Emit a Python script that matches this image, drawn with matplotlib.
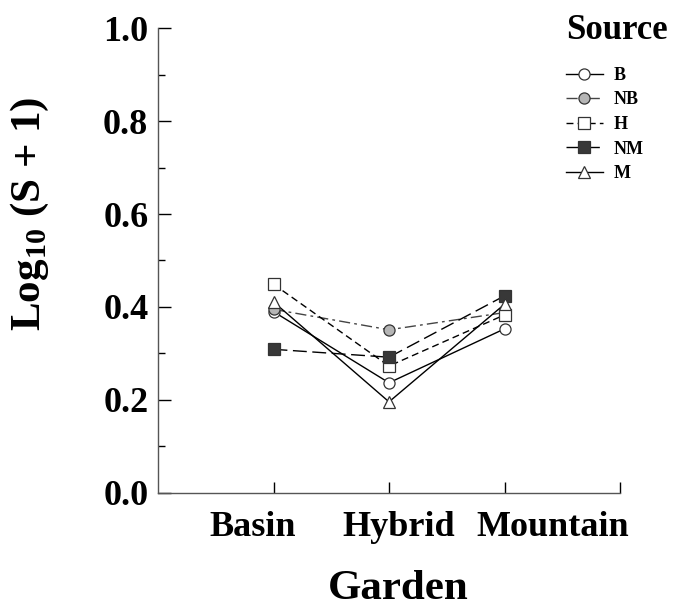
import numpy as np
import matplotlib.pyplot as plt
import matplotlib.transforms as mtransforms
from matplotlib.ticker import MultipleLocator, FormatStrFormatter

gardens = ["Basin", "Hybrid", "Mountain"]
sources = ["B", "NB", "H", "NM", "M"]

# log10(S+1) per source, in garden order
B = [0.390, 0.237, 0.353]
NB = [0.395, 0.351, 0.388]
H = [0.449, 0.273, 0.383]
NM = [0.309, 0.292, 0.424]
M = [0.411, 0.196, 0.406]

plt.rcParams['font.family'] = ['Liberation Serif', 'DejaVu Serif']
plt.rcParams['font.weight'] = 'bold'
plt.rcParams['mathtext.fontset'] = 'custom'
plt.rcParams['mathtext.bf'] = 'Liberation Serif:bold'

fig = plt.figure(figsize=(6.77, 6.09), dpi=100)
ax = fig.add_axes([0.2334, 0.1905, 0.6824, 0.7635])

x = np.arange(1, len(gardens) + 1)
styles = {
    "B": dict(ls='-', marker='o', mfc='white', color='black'),
    "NB": dict(ls=(0, (8, 3, 2, 3)), marker='o', mfc='#b5b5b5', color='#444444'),
    "H": dict(ls=(0, (5, 3)), marker='s', mfc='white', color='black'),
    "NM": dict(ls=(0, (10, 4)), marker='s', mfc='#383838', color='black'),
    "M": dict(ls='-', marker='^', mfc='white', color='black'),
}
data = {"B": B, "NB": NB, "H": H, "NM": NM, "M": M}
for s in sources:
    st = styles[s]
    ax.plot(x, data[s], linestyle=st['ls'], marker=st['marker'], color=st['color'],
            mfc=st['mfc'], mec='#333333', ms=8, lw=1.0, label=s, mew=0.9)

ax.set_xlim(0, 4)
ax.set_ylim(0, 1.0)
ax.set_xticks([1, 2, 3, 4])
ax.set_xticklabels(gardens + [""])
ax.yaxis.set_major_locator(MultipleLocator(0.2))
ax.yaxis.set_minor_locator(MultipleLocator(0.1))
ax.yaxis.set_major_formatter(FormatStrFormatter('%.1f'))
ax.tick_params(axis='y', which='major', direction='in', length=9, width=1, labelsize=26, pad=7)
ax.tick_params(axis='y', which='minor', direction='in', length=5, width=1)
ax.tick_params(axis='x', which='major', direction='in', length=8, width=1, labelsize=26, pad=13)
for lab in ax.get_xticklabels() + ax.get_yticklabels():
    lab.set_fontweight('bold')

# garden names sit as one spaced line, nudged off their ticks
shifts = [-15, 7, 35]
for lab, dx in zip(ax.get_xticklabels(), shifts):
    lab.set_transform(lab.get_transform() + mtransforms.ScaledTranslation(dx / 72, 0, fig.dpi_scale_trans))

for sp in ['top', 'right']:
    ax.spines[sp].set_visible(False)
for sp in ['left', 'bottom']:
    ax.spines[sp].set_color('#555555')
    ax.spines[sp].set_linewidth(1.0)

ax.set_xlabel("Garden", fontsize=31, fontweight='bold')
ax.xaxis.set_label_coords(0.52, -0.166)
ax.set_ylabel(r"Log$_{\mathbf{10}}$ (S + 1)", fontsize=31, fontweight='bold')
ax.yaxis.set_label_coords(-0.232, 0.6)

leg = ax.legend(loc='upper left', bbox_to_anchor=(0.818, 0.997), bbox_transform=fig.transFigure,
                frameon=False, fontsize=13, handlelength=2.0, handletextpad=0.6,
                labelspacing=0.42, title="Source", title_fontsize=25, borderpad=0.2)
leg.get_title().set_fontweight('bold')
leg._legend_box.align = "left"
leg._legend_box.sep = 14
for t in leg.get_texts():
    t.set_fontweight('bold')

fig.savefig("out.png", dpi=100)
